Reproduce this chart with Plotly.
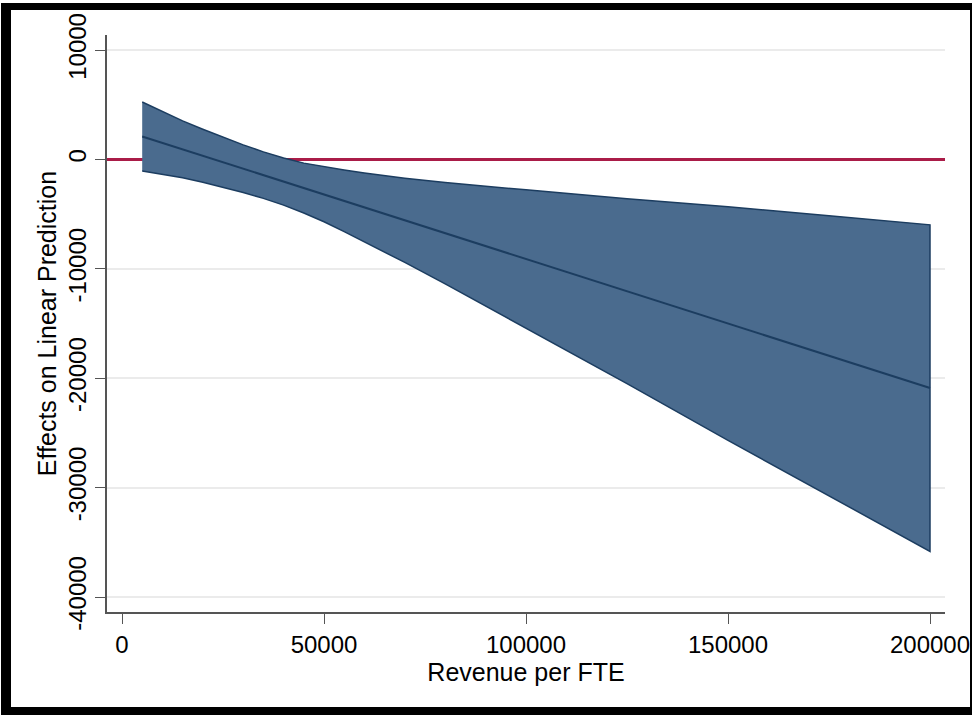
import plotly.graph_objects as go

# Revenue per FTE grid and the estimated marginal effect with its 95% CI
revenue = [5000, 10000, 15000, 20000, 25000, 30000, 35000, 40000, 45000,
           50000, 55000, 60000, 70000, 80000, 90000, 100000, 125000, 150000,
           175000, 200000]
effect = [2100, 1510, 920, 330, -260, -850, -1440, -2030, -2620,
          -3210, -3800, -4390, -5570, -6750, -7930, -9100, -12050, -15000,
          -17950, -20900]
ci_upper = [5250, 4360, 3520, 2760, 2020, 1330, 690, 120, -340,
            -680, -960, -1240, -1720, -2120, -2480, -2780, -3600, -4330,
            -5150, -5980]
ci_lower = [-1050, -1340, -1680, -2090, -2530, -3020, -3560, -4180, -4900,
            -5700, -6600, -7520, -9420, -11370, -13380, -15430, -20500, -25680,
            -30750, -35830]

x_range = [-3713, 203713]
y_range = [-41371, 11371]
x_ticks = [0, 50000, 100000, 150000, 200000]
x_tick_text = ["0", "50000", "100000", "150000", "200000"]
y_ticks = [10000, 0, -10000, -20000, -30000, -40000]
y_tick_text = ["10000", "0", "-10000", "-20000", "-30000", "-40000"]

FONT = "Liberation Sans, Arial, sans-serif"
BAND_FILL = "#4a6b8e"
BAND_EDGE = "#1c3d60"
REF_RED = "#aa1c48"
AXIS_GREY = "#555555"

# plot-area geometry in pixels, used to place the page frame in paper coords
W, H = 972, 715
L, R, T, B = 107, 27, 35, 103
pw, ph = W - L - R, H - T - B


def px_x(p):
    return (p - L) / pw


def px_y(p):
    return (H - B - p) / ph


fig = go.Figure()

# reference line at zero effect, spanning the whole x axis
fig.add_trace(go.Scatter(
    x=x_range, y=[0, 0],
    mode="lines",
    line=dict(color=REF_RED, width=3),
    hoverinfo="skip",
    showlegend=False,
    cliponaxis=False,
))

# confidence band as a closed polygon
fig.add_trace(go.Scatter(
    x=revenue + revenue[::-1],
    y=ci_upper + ci_lower[::-1],
    mode="lines",
    fill="toself",
    fillcolor=BAND_FILL,
    line=dict(color=BAND_EDGE, width=1.5),
    hoverinfo="skip",
    showlegend=False,
))

# point estimate
fig.add_trace(go.Scatter(
    x=revenue, y=effect,
    mode="lines",
    line=dict(color=BAND_EDGE, width=2),
    showlegend=False,
))

shapes = [
    # black frame around the page
    dict(type="rect", xref="paper", yref="paper",
         x0=px_x(1), x1=px_x(W), y0=px_y(3), y1=px_y(H),
         fillcolor="black", line=dict(width=0), layer="below"),
    dict(type="rect", xref="paper", yref="paper",
         x0=px_x(11), x1=px_x(970), y0=px_y(10), y1=px_y(707),
         fillcolor="white", line=dict(width=0), layer="below"),
]

fig.update_layout(
    width=W, height=H,
    autosize=False,
    margin=dict(l=L, r=R, t=T, b=B),
    paper_bgcolor="white",
    plot_bgcolor="rgba(0,0,0,0)",
    font=dict(family=FONT, size=24, color="black"),
    shapes=shapes,
    xaxis=dict(
        range=x_range,
        automargin=False,
        tickmode="array", tickvals=x_ticks, ticktext=x_tick_text,
        ticks="outside", ticklen=10, tickwidth=1.2, tickcolor=AXIS_GREY,
        showline=True, linecolor=AXIS_GREY, linewidth=1.5,
        showgrid=False, zeroline=False,
        tickfont=dict(size=24),
        title=dict(text="Revenue per FTE", font=dict(size=25), standoff=0),
    ),
    yaxis=dict(
        range=y_range,
        automargin=False,
        tickmode="array", tickvals=y_ticks, ticktext=y_tick_text,
        tickangle=-90,
        ticks="outside", ticklen=10, tickwidth=1.2, tickcolor=AXIS_GREY,
        showline=True, linecolor=AXIS_GREY, linewidth=1.5,
        showgrid=True, gridcolor="#ebebeb", gridwidth=1.5,
        zeroline=False,
        tickfont=dict(size=24),
        title=dict(text="Effects on Linear Prediction", font=dict(size=25), standoff=0),
    ),
)

fig.write_html("out.html")
